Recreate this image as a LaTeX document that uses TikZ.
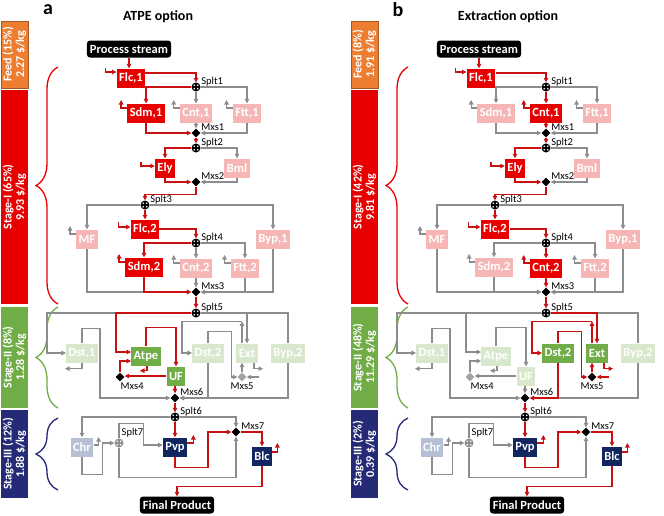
\documentclass[tikz,border=0pt]{standalone}
\usepackage{fontspec}
\setmainfont{Carlito}
\usetikzlibrary{arrows.meta,shapes.geometric,decorations.pathreplacing}
\definecolor{flame}{RGB}{232,0,0}
\definecolor{blush}{RGB}{246,182,182}
\definecolor{moss}{RGB}{112,173,71}
\definecolor{sage}{RGB}{216,232,204}
\definecolor{navy}{RGB}{18,38,96}
\definecolor{mist}{RGB}{182,192,212}
\definecolor{ember}{RGB}{237,125,49}
\definecolor{indigo}{RGB}{36,42,118}
\definecolor{wirered}{RGB}{200,16,16}
\definecolor{wiregray}{RGB}{140,140,140}
\tikzset{
  >={Triangle[length=4.5pt,width=4.5pt]},
  unit/.style={inner xsep=2.5pt,inner ysep=1pt,minimum height=19pt,text=white,
    font=\fontsize{12.5}{13}\selectfont\bfseries},
  hotR/.style={unit,fill=flame},
  paleR/.style={unit,fill=blush},
  hotG/.style={unit,fill=moss},
  paleG/.style={unit,fill=sage},
  hotB/.style={unit,fill=navy},
  paleB/.style={unit,fill=mist},
  endbox/.style={fill=black,text=white,rounded corners=3pt,inner xsep=3pt,inner ysep=1pt,
    minimum height=17pt,font=\fontsize{12.5}{13}\selectfont\bfseries},
  splt/.style={circle,fill=#1,minimum size=9pt,inner sep=0pt,
    path picture={\fill[white]
      ([shift={(-1.8pt,-1.8pt)}]path picture bounding box.center) circle (0.9pt)
      ([shift={(1.8pt,-1.8pt)}]path picture bounding box.center) circle (0.9pt)
      ([shift={(-1.8pt,1.8pt)}]path picture bounding box.center) circle (0.9pt)
      ([shift={(1.8pt,1.8pt)}]path picture bounding box.center) circle (0.9pt);}},
  splt/.default=black,
  mxs/.style={diamond,fill=#1,minimum size=9pt,inner sep=0pt},
  mxs/.default=black,
  lbl/.style={font=\fontsize{10.5}{11}\selectfont,inner sep=0.5pt,anchor=south west},
  lblm/.style={lbl,yshift=2pt},
  hot/.style={draw=wirered,line width=1.5pt,->},
  cold/.style={draw=wiregray,line width=1.2pt,->},
  stagebar/.style={fill=#1,rotate=90,minimum height=27pt,inner sep=1pt,align=center,
    text=white,font=\fontsize{12}{12.5}\selectfont\bfseries},
  brc/.style={decorate,decoration={brace,amplitude=22pt},draw=#1,line width=1.3pt},
}
% one panel of the flowsheet: letter, title, bar texts
\newcommand{\drawpanel}[6]{%
  \node[stagebar=ember,draw=ember!70!black,line width=1pt,minimum width=67pt] (feed) at (14.5,54.5) {#3};
  \node[stagebar=flame,minimum width=214pt] (st1) at (14.5,197) {#4};
  \node[stagebar=moss,minimum width=101pt] (st2) at (14.5,357.5) {#5};
  \node[stagebar=indigo,minimum width=88pt] (st3) at (14.5,454) {#6};
  \draw[brc=flame] (58,304) -- (58,67);
  \draw[brc=moss] (58,408) -- (58,307);
  \draw[brc=indigo] (58,490) -- (58,418);
  \node[font=\fontsize{20}{22}\selectfont\bfseries] (tag) at (48,10) {#1};
  \node[font=\fontsize{14}{16}\selectfont\bfseries] (title) at (158,17) {#2};
  % stage I
  \node[endbox] (src) at (129,49) {Process stream};
  \node[hotR] (flc1) at (131,78) {Flc,1};
  \node[splt,label={[lbl]east:Splt1}] (splt1) at (196,87) {};
  \node[sdmbox] (sdm1) at (146,113) {Sdm,1};
  \node[cntbox] (cnt1) at (196,113) {Cnt,1};
  \node[paleR] (ftt1) at (247,113) {Ftt,1};
  \node[mxs,label={[lblm]east:Mxs1}] (mxs1) at (196,133) {};
  \node[splt,label={[lbl]east:Splt2}] (splt2) at (196,148) {};
  \node[hotR] (ely) at (165,168) {Ely};
  \node[paleR] (bml) at (237,168) {Bml};
  \node[mxs,label={[lblm]east:Mxs2}] (mxs2) at (196,182) {};
  \node[splt,label={[lbl]east:Splt3}] (splt3) at (145,205) {};
  \node[paleR] (mf) at (87,239) {MF};
  \node[hotR] (flc2) at (145,229) {Flc,2};
  \node[paleR] (byp1) at (273,239) {Byp,1};
  \node[splt,label={[lbl]east:Splt4}] (splt4) at (196,243) {};
  \node[sdmbox] (sdm2) at (144,267) {Sdm,2};
  \node[cntbox] (cnt2) at (196,268) {Cnt,2};
  \node[paleR] (ftt2) at (245,268) {Ftt,2};
  \node[mxs,label={[lblm]east:Mxs3}] (mxs3) at (196,292) {};
  % stage II
  \node[splt,label={[lbl]east:Splt5}] (splt5) at (196,313) {};
  \node[paleG] (dst1) at (82,353) {Dst,1};
  \node[atpebox] (atpe) at (146,356) {Atpe};
  \node[atpebox] (uf) at (176,376) {UF};
  \node[mxfour,label={[lbl,anchor=north west]south:Mxs4}] (mxs4) at (120,377) {};
  \node[extbox] (dst2) at (208,353) {Dst,2};
  \node[extbox] (ext) at (247,353) {Ext};
  \node[paleG] (byp2) at (288,353) {Byp,2};
  \node[mxfive,label={[lbl,anchor=north]south:Mxs5}] (mxs5) at (242,377) {};
  \node[mxs,label={[lblm]east:Mxs6}] (mxs6) at (175,398) {};
  % stage III
  \node[splt,label={[lbl]east:Splt6}] (splt6) at (175,417) {};
  \node[paleB] (chr) at (82,447) {Chr};
  \node[splt=wiregray,label={[lbl,xshift=2pt]north:Splt7}] (splt7) at (119,443) {};
  \node[hotB] (pvp) at (175,447) {Pvp};
  \node[mxs,label={[lblm]east:Mxs7}] (mxs7) at (236,432) {};
  \node[hotB] (blc) at (262,456) {Blc};
  \node[endbox] (final) at (177,505) {Final Product};
  % grey streams
  \draw[cold] (splt1.east) -| (ftt1.north);
  \draw[cold] (ftt1.south) |- (mxs1.east);
  \draw[cold] ([yshift=5pt]ftt1.west) -- ++(-6pt,0pt) -- ++(0pt,8pt);
  \draw[cold] (splt2.east) -| (bml.north);
  \draw[cold] (bml.south) |- (mxs2.east);
  \draw[cold] (splt3.west) -| (mf.north);
  \draw[cold] (splt3.east) -| (byp1.north);
  \draw[cold] ([yshift=5pt]mf.west) -- ++(-6pt,0pt) -- ++(0pt,8pt);
  \draw[cold] (mf.south) |- (mxs3.west);
  \draw[cold] (byp1.south) |- (mxs3.east);
  \draw[cold] (splt4.east) -| (ftt2.north);
  \draw[cold] (ftt2.south) |- (mxs3.east);
  \draw[cold] ([yshift=5pt]ftt2.west) -- ++(-6pt,0pt) -- ++(0pt,8pt);
  \draw[cold] (splt5.west) -| ([xshift=-19pt]dst1.west) -- (dst1.west);
  \draw[cold] (dst1.north) -- ++(0pt,15pt) -- ++(18pt,0pt) |- (mxs6.west);
  \draw[cold] (dst1.south) -- ++(0pt,-6pt) -- ++(-17pt,0pt);
  \draw[cold,-] (splt5.east) -| (byp2.north);
  \draw[cold] (byp2.south) |- (mxs6.east);
  \draw[cold] (splt6.west) -| (chr.north);
  \draw[cold] (splt6.east) -| (mxs7.north);
  \draw[cold] ([yshift=2pt]chr.east) -- ++(5pt,0pt) -- ++(0pt,8pt);
  \draw[cold] (chr.south) -- ++(0pt,-18pt) -| ([xshift=-12pt]splt7.west) -- (splt7.west);
  \draw[cold] (splt7.north) -- ++(0pt,15pt) -| ([xshift=-19pt,yshift=2pt]pvp.west) -- ([yshift=2pt]pvp.west);
  \draw[cold] (splt7.south) -- ++(0pt,-30pt) -| (mxs7.south);
  % option dependent streams
  \draw[sdmw] (splt1.west) -| (sdm1.north);
  \draw[sdmw] (sdm1.south) |- (mxs1.west);
  \draw[sdmw] ([yshift=5pt]sdm1.west) -- ++(-6pt,0pt) -- ++(0pt,8pt);
  \draw[cntw] (splt1.south) -- (cnt1.north);
  \draw[cntw] (cnt1.south) -- (mxs1.north);
  \draw[cntw] ([yshift=5pt]cnt1.west) -- ++(-6pt,0pt) -- ++(0pt,8pt);
  \draw[sdmw] (splt4.west) -| (sdm2.north);
  \draw[sdmw] (sdm2.south) |- (mxs3.west);
  \draw[sdmw] ([yshift=5pt]sdm2.west) -- ++(-6pt,0pt) -- ++(0pt,8pt);
  \draw[cntw] (splt4.south) -- (cnt2.north);
  \draw[cntw] (cnt2.south) -- (mxs3.north);
  \draw[cntw] ([yshift=5pt]cnt2.west) -- ++(-6pt,0pt) -- ++(0pt,8pt);
  \draw[atpew] (splt5.west) -| ([xshift=-15pt,yshift=4pt]atpe.west) -- ([yshift=4pt]atpe.west);
  \draw[atpew] (atpe.north) -- ++(0pt,19pt) -| (uf.north);
  \draw[atpew] (uf.west) -- (uf.west -| mxs4.east);
  \draw[atpew] (mxs4.north) |- ([yshift=-5pt]atpe.west);
  \draw[atpew] ([xshift=1pt]atpe.south) -- ++(0pt,-5pt) -- ++(-7pt,0pt);
  \draw[atpew] (uf.south -| mxs6) -- (mxs6.north);
  \draw[extw] (splt5.east) -| (ext.north);
  \draw[extw] (mxs5 |- ext.north) -- ++(0pt,22pt) coordinate (extup);
  \draw[extw] (extup) -| ([xshift=-10pt]dst2.west) -- (dst2.west);
  \draw[extw] (dst2.north) -- ++(0pt,12pt) -| ([xshift=-6pt]mxs5.west) -- (mxs5.west);
  \draw[extw] (dst2.south) |- (mxs6.east);
  \draw[extw] (mxs5.north) -- (mxs5 |- ext.south);
  \draw[extw] ([xshift=12pt]mxs5.east) -- (mxs5.east);
  \draw[extw] ([xshift=7pt]ext.south) -- ++(0pt,-6pt) -- ++(9pt,0pt);
  % main red path
  \draw[hot] (src.south) -- (src.south |- flc1.north);
  \draw[hot] ([xshift=-11pt,yshift=10pt]flc1.west) |- ([yshift=6pt]flc1.west);
  \draw[hot] ([yshift=5pt]flc1.east) -| (splt1.north);
  \draw[hot] (mxs1.south) -- (splt2.north);
  \draw[hot] (splt2.west) -| (ely.north);
  \draw[hot] ([xshift=-14pt,yshift=6pt]ely.west) |- ([yshift=2pt]ely.west);
  \draw[hot] (ely.south) |- (mxs2.west);
  \draw[hot] (mxs2.south) -- ++(0pt,-8pt) -| (splt3.north);
  \draw[hot] (splt3.south) -- (flc2.north);
  \draw[hot] ([xshift=-12pt,yshift=7pt]flc2.west) |- ([yshift=2pt]flc2.west);
  \draw[hot] (flc2.east) -| (splt4.north);
  \draw[hot] (mxs3.south) -- (splt5.north);
  \draw[hot] (mxs6.south) -- (splt6.north);
  \draw[hot] (splt6.south) -- (pvp.north);
  \draw[hot] ([yshift=4pt]pvp.east) -- ++(6pt,0pt) -- ++(0pt,8pt);
  \draw[hot] (pvp.south) -- ++(0pt,-11pt) -- ++(33pt,0pt) |- (mxs7.west);
  \draw[hot] (mxs7.east) -| (blc.north);
  \draw[hot] ([yshift=4pt]blc.east) -- ++(5pt,0pt) -- ++(0pt,9pt);
  \draw[hot] (blc.south) -- ++(0pt,-21pt) -| (final.north);
}

\begin{document}
\begin{tikzpicture}[x=1pt,y=-1pt]
  \useasboundingbox (0,0) rectangle (664,515);
  \begin{scope}[name prefix=a-,
      sdmbox/.style=hotR, cntbox/.style=paleR, sdmw/.style=hot, cntw/.style=cold,
      atpebox/.style=hotG, atpew/.style=hot, extbox/.style=paleG, extw/.style=cold,
      mxfour/.style={mxs}, mxfive/.style={mxs=wiregray!80}]
    \drawpanel{a}{ATPE option}{Feed (15\%)\\2.27 \$/kg}{Stage-I (65\%)\\9.93 \$/kg}
      {Stage-II (8\%)\\1.28 \$/kg}{Stage-III (12\%)\\1.88 \$/kg}
  \end{scope}
  \begin{scope}[xshift=350pt,name prefix=b-,
      sdmbox/.style=paleR, cntbox/.style=hotR, sdmw/.style=cold, cntw/.style=hot,
      atpebox/.style=paleG, atpew/.style=cold, extbox/.style=hotG, extw/.style=hot,
      mxfour/.style={mxs=wiregray!80}, mxfive/.style={mxs}]
    \drawpanel{b}{Extraction option}{Feed (8\%)\\1.91 \$/kg}{Stage-I (42\%)\\9.81 \$/kg}
      {Stage-II (48\%)\\11.29 \$/kg}{Stage-III (2\%)\\0.39 \$/kg}
  \end{scope}
\end{tikzpicture}
\end{document}
